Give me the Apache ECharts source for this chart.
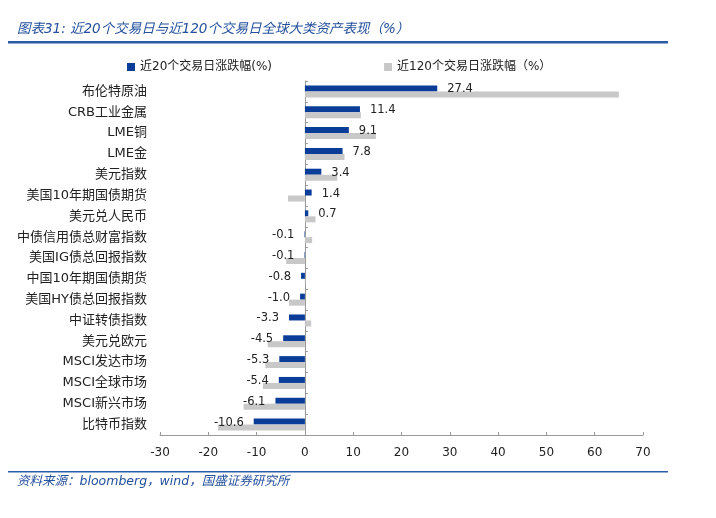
<!DOCTYPE html>
<html><head><meta charset="utf-8">
<script src="https://cdn.jsdelivr.net/npm/echarts@6/dist/echarts.min.js"></script>
<style>html,body{margin:0;padding:0;background:#fff}#c{width:716px;height:518px}</style>
</head><body><div id="c"></div>
<script>
const categories = ['布伦特原油','CRB工业金属','LME铜','LME金','美元指数','美国10年期国债期货','美元兑人民币','中债信用债总财富指数','美国IG债总回报指数','中国10年期国债期货','美国HY债总回报指数','中证转债指数','美元兑欧元','MSCI发达市场','MSCI全球市场','MSCI新兴市场','比特币指数'];
const recent20 = [27.4, 11.4, 9.1, 7.8, 3.4, 1.4, 0.7, -0.1, -0.1, -0.8, -1.0, -3.3, -4.5, -5.3, -5.4, -6.1, -10.6];
const recent120 = [65.0, 11.6, 14.7, 8.2, 6.7, -3.5, 2.2, 1.5, -3.9, 0.1, -3.3, 1.3, -7.7, -8.2, -8.7, -12.7, -18.0];
const seriesNames = ['近20个交易日涨跌幅(%)', '近120个交易日涨跌幅（%）'];
const titleText = '图表31: 近20个交易日与近120个交易日全球大类资产表现（%）';
const sourceText = '资料来源：bloomberg，wind，国盛证券研究所';

const latin = '"DejaVu Sans", "Noto Sans CJK SC", sans-serif';
const chart = echarts.init(document.getElementById('c'));
const blueData = recent20.map(v => ({value: v, label: {position: v < 0 ? 'left' : 'right'}}));
chart.setOption({
  animation: false,
  backgroundColor: '#fff',
  legend: {
    left: 122, top: 56, itemWidth: 8, itemHeight: 8, itemGap: 112,
    icon: 'rect',
    textStyle: {fontSize: 12, color: '#222', fontFamily: latin},
    data: seriesNames
  },
  grid: {left: 160, right: 73, top: 81, bottom: 83, containLabel: false},
  xAxis: {
    type: 'value', min: -30, max: 70, interval: 10,
    splitLine: {show: false},
    axisLine: {show: true, lineStyle: {color: '#999'}},
    axisTick: {show: true, inside: true, length: 3, lineStyle: {color: '#999'}},
    axisLabel: {fontSize: 12, color: '#222', fontFamily: latin, margin: 12}
  },
  yAxis: [{
    type: 'category', data: categories, inverse: true,
    axisLine: {show: false, onZero: false},
    axisTick: {show: false},
    axisLabel: {fontSize: 13, color: '#222', fontFamily: latin, margin: 13}
  }, {
    type: 'category', data: categories, inverse: true, position: 'left',
    axisLine: {show: true, onZero: true, lineStyle: {color: '#999'}},
    axisTick: {show: true, inside: true, length: 3, lineStyle: {color: '#999'}},
    axisLabel: {show: false}
  }],
  series: [{
    name: seriesNames[0], type: 'bar', data: blueData,
    barWidth: 6, barGap: '0%',
    itemStyle: {color: '#0a3d97'},
    label: {show: true, distance: 10, fontSize: 11.5, color: '#222', fontFamily: latin,
      offset: [0, 1],
      formatter: p => Number(p.value).toFixed(1)}
  }, {
    name: seriesNames[1], type: 'bar', data: recent120,
    barWidth: 6, barGap: '0%',
    itemStyle: {color: '#c8c8c8'}
  }],
  graphic: [
    {type: 'text', left: 17, top: 23, style: {text: titleText, fontSize: 13.5, fontStyle: 'italic', fill: '#24509c', fontFamily: latin}},
    {type: 'rect', shape: {x: 8, y: 41, width: 660, height: 2.5}, style: {fill: '#2c5ba8'}},
    {type: 'rect', shape: {x: 8, y: 471, width: 660, height: 1.5}, style: {fill: '#2c5ba8'}},
    {type: 'text', left: 17, top: 475, style: {text: sourceText, fontSize: 12.5, fontStyle: 'italic', fill: '#24509c', fontFamily: latin}}
  ]
});
</script></body></html>
